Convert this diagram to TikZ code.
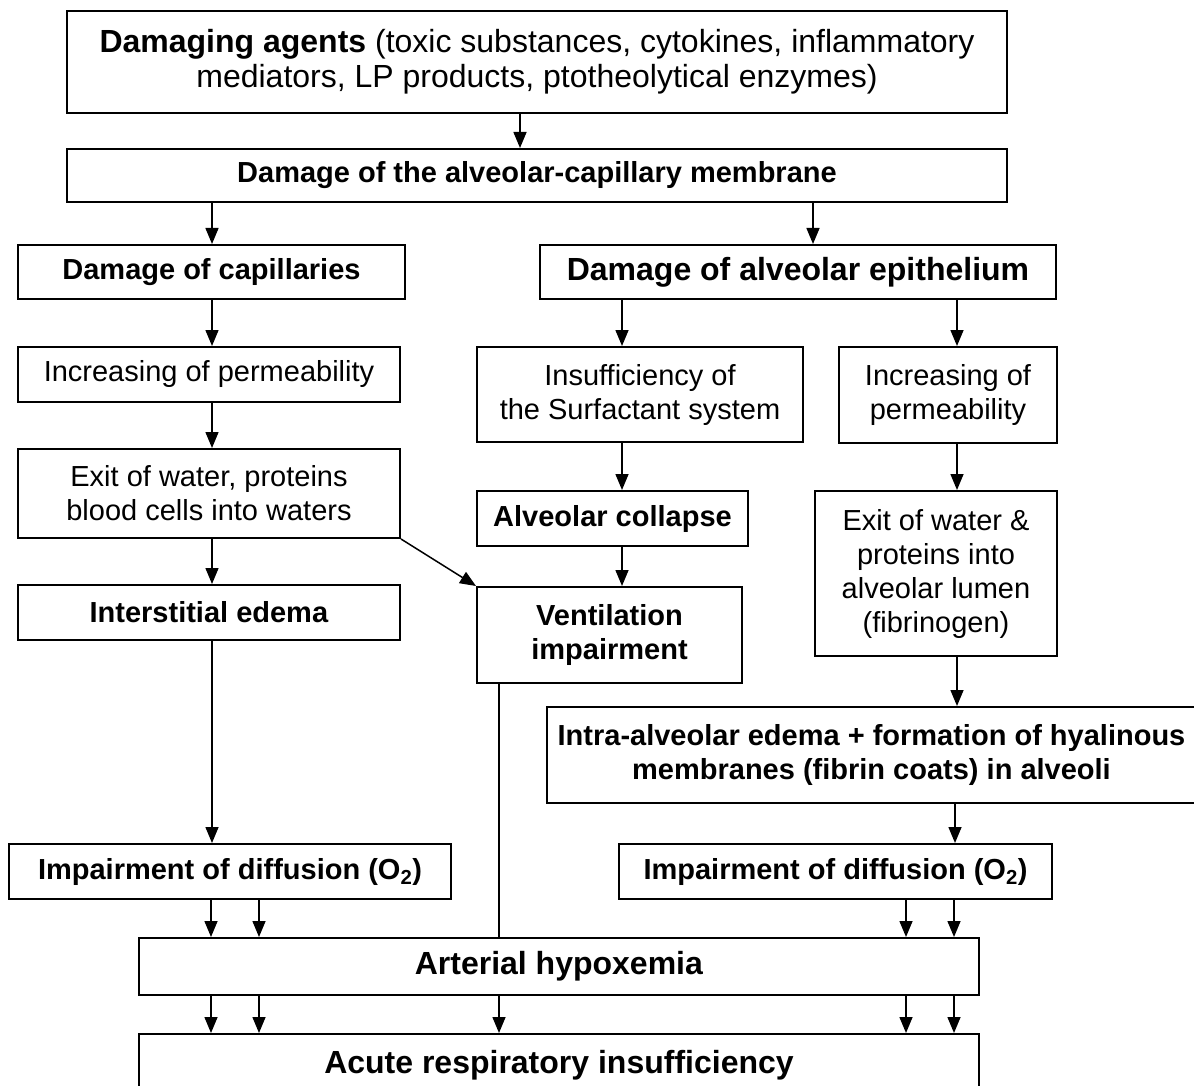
\documentclass[tikz,border=0pt]{standalone}
\usepackage{fontspec}
\setmainfont{Liberation Sans}
\usetikzlibrary{arrows.meta}
\begin{document}
\begin{tikzpicture}[x=1pt,y=-1pt,
  box/.style={draw, line width=2pt, inner sep=0pt, align=center, font=\fontsize{29}{34}\selectfont},
  big/.style={font=\fontsize{32}{35}\selectfont},
  arr/.style={line width=1.5pt, -{Triangle[length=16pt,width=13pt]}},
  link/.style={line width=1.5pt}]
\useasboundingbox (0,0) rectangle (1194,1086);
\fill[white] (0,0) rectangle (1194,1086);

\node[box, big, minimum width=940, minimum height=102] (A) at (537,62)
  {\textbf{Damaging agents} (toxic substances, cytokines, inflammatory\\mediators, LP products, ptotheolytical enzymes)};
\node[box, minimum width=940, minimum height=53] (B) at (537,175.5)
  {\textbf{Damage of the alveolar-capillary membrane}};
\node[box, minimum width=387, minimum height=54] (C) at (211.5,272)
  {\textbf{Damage of capillaries}};
\node[box, big, minimum width=516, minimum height=54] (D) at (798,272)
  {\textbf{Damage of alveolar epithelium}};
\node[box, minimum width=382, minimum height=55] (E) at (209,374.5)
  {Increasing of permeability};
\node[box, minimum width=326, minimum height=95] (F) at (640,394.5)
  {Insufficiency of\\the Surfactant system};
\node[box, minimum width=218, minimum height=96] (G) at (948,395)
  {Increasing of\\permeability};
\node[box, minimum width=382, minimum height=89] (H) at (209,493.5)
  {Exit of water, proteins\\blood cells into waters};
\node[box, minimum width=271, minimum height=55] (I) at (612.5,518.5)
  {\textbf{Alveolar collapse}};
\node[box, minimum width=242, minimum height=165] (J) at (936,573.5)
  {Exit of water \&\\proteins into\\alveolar lumen\\(fibrinogen)};
\node[box, minimum width=382, minimum height=55] (K) at (209,612.5)
  {\textbf{Interstitial edema}};
\node[box, minimum width=265, minimum height=96] (L) at (609.5,635)
  {\textbf{Ventilation}\\\textbf{impairment}};
\node[box, minimum width=649, minimum height=96] (M) at (871.5,755)
  {\textbf{Intra-alveolar edema + formation of hyalinous}\\\textbf{membranes (fibrin coats) in alveoli}};
\node[box, minimum width=442, minimum height=55] (N) at (230,871.5)
  {\textbf{Impairment of diffusion (O\textsubscript{2})}};
\node[box, minimum width=433, minimum height=55] (O) at (835.5,871.5)
  {\textbf{Impairment of diffusion (O\textsubscript{2})}};
\node[box, big, minimum width=840, minimum height=57] (P) at (559,966.5)
  {\textbf{Arterial hypoxemia}};
\node[box, big, minimum width=840, minimum height=62] (Q) at (559,1065)
  {\textbf{Acute respiratory insufficiency}};

\draw[arr] (520,0 |- A.south) -- (520,0 |- B.north);
\draw[arr] (212,0 |- B.south) -- (212,0 |- C.north);
\draw[arr] (813,0 |- B.south) -- (813,0 |- D.north);
\draw[arr] (212,0 |- C.south) -- (212,0 |- E.north);
\draw[arr] (622,0 |- D.south) -- (622,0 |- F.north);
\draw[arr] (957,0 |- D.south) -- (957,0 |- G.north);
\draw[arr] (212,0 |- E.south) -- (212,0 |- H.north);
\draw[arr] (622,0 |- F.south) -- (622,0 |- I.north);
\draw[arr] (957,0 |- G.south) -- (957,0 |- J.north);
\draw[arr] (212,0 |- H.south) -- (212,0 |- K.north);
\draw[arr] (H.south east) -- (L.north west);
\draw[arr] (622,0 |- I.south) -- (622,0 |- L.north);
\draw[arr] (957,0 |- J.south) -- (957,0 |- M.north);
\draw[arr] (212,0 |- K.south) -- (212,0 |- N.north);
\draw[arr] (955,0 |- M.south) -- (955,0 |- O.north);
\draw[link] (499,0 |- L.south) -- (499,0 |- P.north);
\draw[arr] (211,0 |- N.south) -- (211,0 |- P.north);
\draw[arr] (259,0 |- N.south) -- (259,0 |- P.north);
\draw[arr] (906,0 |- O.south) -- (906,0 |- P.north);
\draw[arr] (954,0 |- O.south) -- (954,0 |- P.north);
\draw[arr] (211,0 |- P.south) -- (211,0 |- Q.north);
\draw[arr] (259,0 |- P.south) -- (259,0 |- Q.north);
\draw[arr] (499,0 |- P.south) -- (499,0 |- Q.north);
\draw[arr] (906,0 |- P.south) -- (906,0 |- Q.north);
\draw[arr] (954,0 |- P.south) -- (954,0 |- Q.north);
\end{tikzpicture}
\end{document}
